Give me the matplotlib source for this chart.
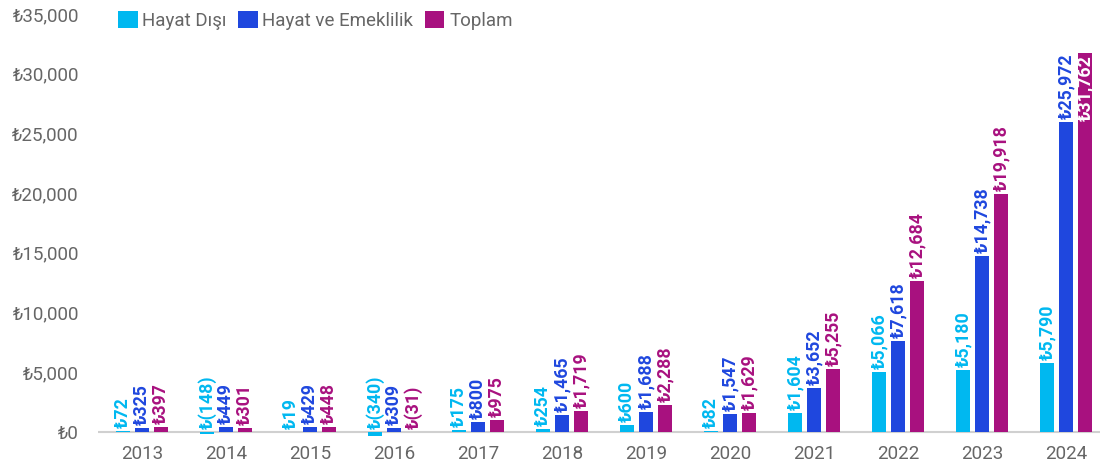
import matplotlib.pyplot as plt
import numpy as np
from matplotlib.ticker import FuncFormatter
from matplotlib.patches import Patch

plt.rcParams["font.family"] = ["Roboto", "DejaVu Sans"]

years = ["2013", "2014", "2015", "2016", "2017", "2018",
         "2019", "2020", "2021", "2022", "2023", "2024"]
hayat_disi = [72, -148, 19, -340, 175, 254, 600, 82, 1604, 5066, 5180, 5790]
hayat_emeklilik = [325, 449, 429, 309, 800, 1465, 1688, 1547, 3652, 7618, 14738, 25972]
toplam = [397, 301, 448, -31, 975, 1719, 2288, 1629, 5255, 12684, 19918, 31762]

series = [
    ("Hayat Dışı", hayat_disi, "#00B8F0"),
    ("Hayat ve Emeklilik", hayat_emeklilik, "#1F47DE"),
    ("Toplam", toplam, "#A8117F"),
]

YMAX = 35000
GREY = "#666666"


def lira(v):
    return f"₺({abs(v):,.0f})" if v < 0 else f"₺{v:,.0f}"


fig = plt.figure(figsize=(11.04, 4.66), dpi=100)
ax = fig.add_axes([0.089, 0.055, 0.907, 0.915])

x = np.arange(len(years))
width = 0.165
step = 0.225

for i, (name, vals, color) in enumerate(series):
    pos = x + (i - 1) * step
    ax.bar(pos, vals, width=width, color=color, zorder=2)
    for px, v in zip(pos, vals):
        top = max(v, 0)
        txt = lira(v)
        # labels that would run past the top of the axis go inside the bar
        if top + 250 + len(txt) * 820 > YMAX:
            ax.text(px, top - 250, txt, rotation=90, ha="center", va="top",
                    color="white", fontsize=12.8, fontweight="bold", zorder=3)
        else:
            ax.text(px, top + 250, txt, rotation=90, ha="center", va="bottom",
                    color=color, fontsize=12.8, fontweight="bold", zorder=3)

ax.axhline(0, color="#d0d0d0", lw=1.5, zorder=1)
ax.set_xlim(-0.52, len(years) - 0.6)
ax.set_ylim(-700, YMAX)
ax.set_yticks(np.arange(0, YMAX + 1, 5000))
ax.yaxis.set_major_formatter(FuncFormatter(lambda v, _: lira(v)))
ax.set_xticks(x)
ax.set_xticklabels(years)
ax.tick_params(axis="both", length=0, colors=GREY, labelsize=13.5)
ax.tick_params(axis="y", pad=14)
ax.tick_params(axis="x", pad=3)
for s in ax.spines.values():
    s.set_visible(False)

handles = [Patch(facecolor=c, label=n) for n, _, c in series]
fig.legend(handles=handles, loc="upper left", bbox_to_anchor=(118 / 1104, 1 - 11 / 466),
           ncol=3, frameon=False, fontsize=13.5, handlelength=1.05, handleheight=1.05,
           handletextpad=0.25, columnspacing=0.6, borderpad=0, borderaxespad=0,
           labelcolor=GREY)

fig.savefig("out.png", dpi=100)
